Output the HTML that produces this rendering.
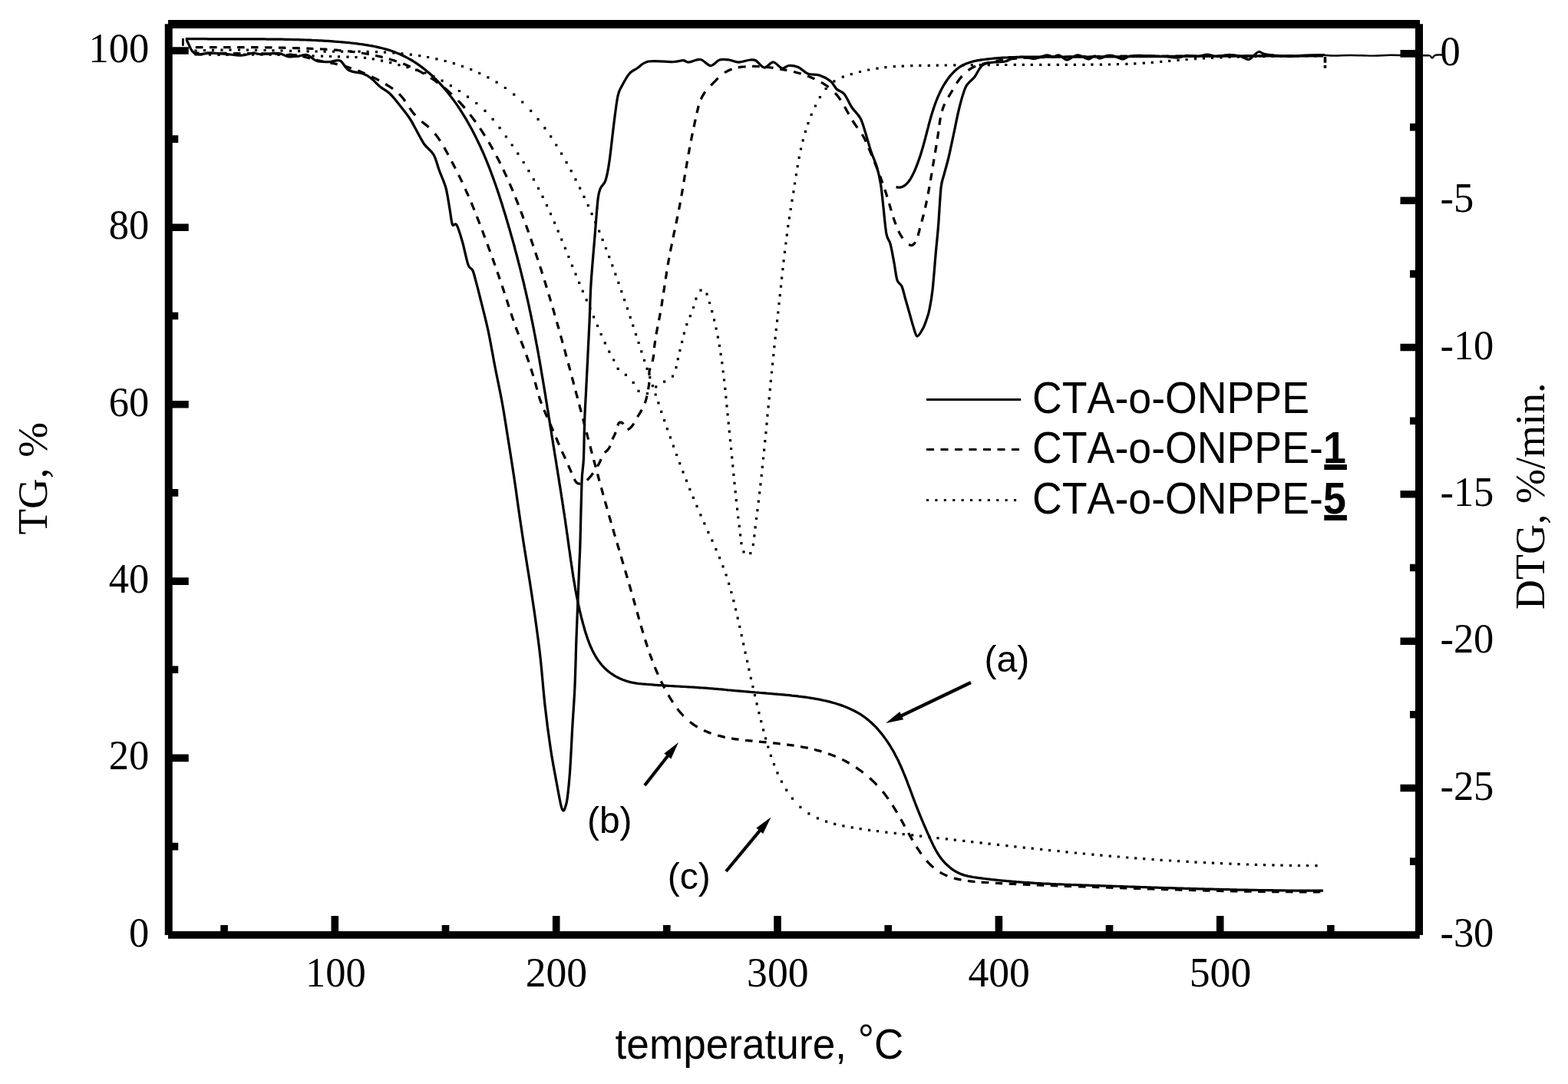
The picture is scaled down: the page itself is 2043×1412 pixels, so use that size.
<!DOCTYPE html>
<html lang="en"><head><meta charset="utf-8"><title>TG / DTG curves</title>
<style>
html,body{margin:0;padding:0;background:#fff;}
body{width:2043px;height:1412px;overflow:hidden;font-family:"Liberation Sans",sans-serif;}
svg{display:block;}
svg text{font-kerning:none;font-variant-ligatures:none;}
</style></head><body>
<svg width="2043" height="1412" viewBox="0 0 2043 1412">
<rect width="2043" height="1412" fill="#fff"/>
<g fill="none" stroke="#000" stroke-width="3.25" stroke-linejoin="round" stroke-linecap="butt">
<path d="M241.7,50.6L244.6,50.7L247.6,50.7L250.6,50.7L253.5,50.7L256.5,50.7L259.5,50.7L262.5,50.7L265.5,50.7L268.4,50.7L271.4,50.8L274.4,50.8L277.4,50.8L280.4,50.8L283.5,50.8L286.5,50.8L289.5,50.8L292.5,50.8L295.5,50.8L298.5,50.8L301.5,50.8L304.6,50.8L307.6,50.8L310.6,50.8L313.6,50.8L316.6,50.8L319.7,50.8L322.7,50.8L325.7,50.8L328.7,50.8L331.8,50.8L334.8,50.9L337.8,50.9L340.8,50.9L343.9,50.9L346.9,51.0L349.9,51.0L352.9,51.0L355.9,51.1L358.9,51.1L362.0,51.1L365.0,51.2L368.0,51.2L371.0,51.3L374.0,51.4L377.0,51.4L380.0,51.5L383.0,51.6L386.0,51.6L388.9,51.7L391.9,51.8L394.9,51.9L397.9,52.0L400.8,52.1L403.8,52.2L406.8,52.4L409.7,52.5L412.7,52.6L415.7,52.8L418.6,52.9L421.6,53.1L424.6,53.3L427.5,53.4L430.5,53.6L433.5,53.8L436.5,54.1L439.5,54.3L442.4,54.5L445.4,54.8L448.4,55.1L451.5,55.4L454.5,55.7L457.5,56.0L460.5,56.3L463.6,56.7L466.6,57.1L469.7,57.5L472.7,57.9L475.8,58.4L478.8,58.8L481.8,59.4L484.9,59.9L487.9,60.5L490.9,61.1L493.9,61.8L496.8,62.5L499.8,63.3L502.7,64.1L505.6,64.9L508.5,65.8L511.3,66.8L514.1,67.8L516.9,68.9L519.7,70.0L522.4,71.2L525.1,72.5L527.7,73.8L530.3,75.1L532.9,76.6L535.5,78.0L538.0,79.5L540.5,81.1L542.9,82.7L545.4,84.4L547.8,86.1L550.1,87.9L552.5,89.7L554.8,91.5L557.0,93.4L559.3,95.3L561.5,97.3L563.7,99.3L565.8,101.4L568.0,103.4L570.1,105.6L572.1,107.7L574.2,109.9L576.2,112.1L578.2,114.4L580.2,116.7L582.1,119.0L584.0,121.3L585.9,123.7L587.7,126.1L589.5,128.5L591.3,130.9L593.1,133.4L594.9,135.9L596.6,138.4L598.3,140.9L599.9,143.4L601.6,146.0L603.2,148.6L604.8,151.2L606.4,153.8L607.9,156.4L609.4,159.0L610.9,161.7L612.4,164.3L613.9,167.0L615.3,169.6L616.7,172.3L618.1,175.0L619.5,177.7L620.8,180.4L622.1,183.1L623.4,185.8L624.7,188.5L626.0,191.2L627.2,194.0L628.5,196.7L629.7,199.4L630.9,202.2L632.0,205.0L633.2,207.7L634.3,210.5L635.5,213.3L636.6,216.1L637.7,218.8L638.7,221.6L639.8,224.4L640.8,227.2L641.9,230.1L642.9,232.9L643.9,235.7L644.9,238.5L645.9,241.3L646.9,244.2L647.9,247.0L648.8,249.9L649.8,252.7L650.7,255.5L651.6,258.4L652.5,261.2L653.5,264.1L654.4,267.0L655.2,269.8L656.1,272.7L657.0,275.6L657.9,278.4L658.8,281.3L659.6,284.2L660.5,287.1L661.3,289.9L662.2,292.8L663.0,295.7L663.9,298.6L664.7,301.5L665.5,304.4L666.3,307.3L667.2,310.2L668.0,313.1L668.8,315.9L669.6,318.8L670.4,321.7L671.1,324.7L671.9,327.6L672.7,330.5L673.5,333.4L674.2,336.3L675.0,339.2L675.7,342.1L676.5,345.0L677.2,347.9L678.0,350.8L678.7,353.8L679.4,356.7L680.1,359.6L680.8,362.5L681.6,365.5L682.3,368.4L683.0,371.3L683.6,374.2L684.3,377.2L685.0,380.1L685.7,383.0L686.3,386.0L687.0,388.9L687.7,391.8L688.3,394.8L689.0,397.7L689.6,400.6L690.2,403.6L690.9,406.5L691.5,409.5L692.1,412.4L692.7,415.4L693.3,418.3L693.9,421.2L694.5,424.2L695.1,427.1L695.7,430.1L696.2,433.0L696.8,436.0L697.4,438.9L697.9,441.9L698.5,444.8L699.0,447.8L699.6,450.7L700.1,453.7L700.7,456.6L701.2,459.6L701.7,462.5L702.3,465.5L702.8,468.5L703.3,471.4L703.8,474.4L704.3,477.3L704.8,480.3L705.3,483.2L705.8,486.2L706.3,489.2L706.8,492.1L707.3,495.1L707.8,498.0L708.3,501.0L708.8,504.0L709.3,506.9L709.8,509.9L710.3,512.9L710.8,515.8L711.2,518.8L711.7,521.8L712.2,524.7L712.7,527.7L713.1,530.7L713.6,533.6L714.1,536.6L714.6,539.6L715.0,542.5L715.5,545.5L716.0,548.5L716.5,551.4L716.9,554.4L717.4,557.4L717.9,560.3L718.4,563.3L718.8,566.3L719.3,569.3L719.8,572.2L720.3,575.2L720.7,578.2L721.2,581.1L721.7,584.1L722.2,587.1L722.6,590.0L723.1,593.0L723.6,596.0L724.1,599.0L724.6,601.9L725.0,604.9L725.5,607.9L726.0,610.9L726.5,613.8L726.9,616.8L727.4,619.8L727.9,622.7L728.4,625.7L728.8,628.7L729.3,631.7L729.8,634.6L730.2,637.6L730.7,640.6L731.2,643.6L731.6,646.5L732.1,649.5L732.6,652.5L733.0,655.4L733.5,658.4L733.9,661.4L734.4,664.4L734.8,667.3L735.3,670.3L735.7,673.3L736.2,676.3L736.6,679.2L737.0,682.2L737.5,685.2L737.9,688.2L738.3,691.1L738.7,694.1L739.2,697.1L739.6,700.0L740.0,703.0L740.4,706.0L740.8,709.0L741.2,711.9L741.6,714.9L742.1,717.9L742.5,720.8L742.9,723.8L743.3,726.8L743.7,729.7L744.2,732.7L744.6,735.7L745.0,738.6L745.5,741.6L745.9,744.6L746.4,747.5L746.8,750.5L747.3,753.5L747.8,756.4L748.3,759.4L748.8,762.3L749.3,765.3L749.8,768.3L750.4,771.2L750.9,774.2L751.5,777.1L752.1,780.1L752.7,783.0L753.3,786.0L753.9,788.9L754.6,791.9L755.2,794.8L755.9,797.7L756.6,800.7L757.3,803.6L758.1,806.6L758.9,809.5L759.6,812.4L760.5,815.4L761.3,818.3L762.1,821.2L763.0,824.1L764.0,827.0L764.9,829.9L765.9,832.8L767.0,835.7L768.0,838.5L769.2,841.3L770.4,844.0L771.6,846.7L773.0,849.4L774.4,852.0L775.8,854.6L777.4,857.1L779.0,859.6L780.7,861.9L782.5,864.3L784.3,866.5L786.3,868.7L788.4,870.8L790.5,872.8L792.8,874.7L795.2,876.5L797.6,878.2L800.2,879.9L802.8,881.4L805.5,882.8L808.2,884.1L811.0,885.3L813.8,886.3L816.7,887.3L819.6,888.1L822.5,888.8L825.5,889.3L828.4,889.9L831.4,890.3L834.4,890.6L837.4,891.0L840.4,891.2L843.5,891.5L846.5,891.7L849.5,891.9L852.5,892.2L855.5,892.4L858.5,892.6L861.5,892.7L864.5,892.9L867.5,893.1L870.5,893.3L873.5,893.5L876.4,893.6L879.4,893.8L882.4,894.0L885.4,894.1L888.4,894.3L891.4,894.5L894.4,894.7L897.4,894.8L900.3,895.0L903.3,895.2L906.3,895.4L909.3,895.6L912.3,895.8L915.3,896.0L918.3,896.2L921.3,896.4L924.3,896.7L927.3,896.9L930.4,897.2L933.4,897.4L936.4,897.7L939.4,897.9L942.4,898.2L945.4,898.5L948.5,898.8L951.5,899.0L954.5,899.3L957.5,899.6L960.5,899.8L963.5,900.1L966.5,900.4L969.5,900.7L972.5,900.9L975.5,901.2L978.5,901.5L981.5,901.7L984.5,902.0L987.5,902.2L990.4,902.5L993.4,902.7L996.4,902.9L999.3,903.2L1002.3,903.4L1005.3,903.6L1008.2,903.9L1011.2,904.1L1014.1,904.4L1017.1,904.6L1020.1,904.9L1023.0,905.2L1026.0,905.4L1028.9,905.7L1031.9,906.1L1034.9,906.4L1037.9,906.7L1040.9,907.1L1043.8,907.4L1046.8,907.8L1049.8,908.2L1052.8,908.7L1055.8,909.1L1058.9,909.6L1061.9,910.1L1064.9,910.7L1067.9,911.2L1070.9,911.9L1073.9,912.5L1076.9,913.2L1079.9,913.9L1082.8,914.6L1085.8,915.5L1088.7,916.3L1091.6,917.2L1094.5,918.1L1097.3,919.1L1100.1,920.2L1102.9,921.3L1105.7,922.5L1108.4,923.7L1111.1,925.0L1113.7,926.3L1116.3,927.7L1118.9,929.2L1121.4,930.7L1123.9,932.3L1126.3,934.0L1128.6,935.8L1130.9,937.6L1133.2,939.5L1135.4,941.5L1137.6,943.5L1139.7,945.6L1141.7,947.7L1143.7,949.9L1145.7,952.2L1147.6,954.5L1149.5,956.8L1151.3,959.2L1153.1,961.6L1154.9,964.1L1156.6,966.6L1158.2,969.1L1159.9,971.7L1161.4,974.3L1163.0,976.9L1164.5,979.5L1165.9,982.2L1167.3,984.9L1168.7,987.6L1170.1,990.3L1171.4,993.0L1172.6,995.8L1173.9,998.5L1175.1,1001.3L1176.3,1004.0L1177.4,1006.8L1178.6,1009.6L1179.7,1012.4L1180.8,1015.2L1181.9,1018.0L1182.9,1020.8L1184.0,1023.6L1185.1,1026.4L1186.1,1029.2L1187.2,1032.0L1188.2,1034.8L1189.2,1037.6L1190.3,1040.4L1191.3,1043.2L1192.4,1046.0L1193.5,1048.8L1194.6,1051.6L1195.7,1054.4L1196.8,1057.2L1197.9,1059.9L1199.0,1062.7L1200.2,1065.5L1201.4,1068.3L1202.5,1071.0L1203.7,1073.8L1204.9,1076.5L1206.1,1079.3L1207.3,1082.1L1208.5,1084.8L1209.8,1087.6L1211.0,1090.4L1212.2,1093.1L1213.5,1095.9L1214.8,1098.6L1216.1,1101.4L1217.5,1104.1L1218.9,1106.7L1220.4,1109.4L1221.9,1111.9L1223.6,1114.5L1225.3,1116.9L1227.1,1119.3L1229.1,1121.7L1231.1,1123.9L1233.2,1126.1L1235.5,1128.1L1237.8,1130.1L1240.1,1131.9L1242.6,1133.6L1245.1,1135.1L1247.7,1136.6L1250.4,1137.8L1253.1,1138.9L1255.9,1139.9L1258.8,1140.7L1261.7,1141.4L1264.6,1141.9L1267.6,1142.5L1270.5,1142.9L1273.5,1143.3L1276.5,1143.7L1279.5,1144.1L1282.5,1144.5L1285.4,1144.9L1288.4,1145.2L1291.4,1145.6L1294.4,1145.9L1297.4,1146.2L1300.4,1146.5L1303.4,1146.8L1306.4,1147.1L1309.4,1147.4L1312.3,1147.7L1315.3,1147.9L1318.3,1148.2L1321.3,1148.4L1324.3,1148.7L1327.3,1148.9L1330.3,1149.1L1333.3,1149.3L1336.3,1149.5L1339.3,1149.7L1342.3,1149.9L1345.3,1150.1L1348.3,1150.3L1351.3,1150.5L1354.3,1150.6L1357.3,1150.8L1360.3,1151.0L1363.3,1151.1L1366.3,1151.2L1369.3,1151.4L1372.3,1151.5L1375.3,1151.7L1378.3,1151.8L1381.4,1151.9L1384.4,1152.0L1387.4,1152.2L1390.4,1152.3L1393.4,1152.4L1396.4,1152.5L1399.4,1152.6L1402.4,1152.7L1405.4,1152.8L1408.4,1152.9L1411.4,1153.0L1414.4,1153.1L1417.4,1153.2L1420.4,1153.3L1423.4,1153.4L1426.4,1153.5L1429.5,1153.6L1432.5,1153.7L1435.5,1153.8L1438.5,1153.9L1441.5,1154.0L1444.5,1154.1L1447.5,1154.2L1450.5,1154.3L1453.5,1154.4L1456.5,1154.5L1459.5,1154.6L1462.5,1154.7L1465.5,1154.8L1468.5,1154.9L1471.5,1155.0L1474.5,1155.1L1477.5,1155.2L1480.5,1155.3L1483.6,1155.4L1486.6,1155.5L1489.6,1155.6L1492.6,1155.7L1495.6,1155.8L1498.6,1155.9L1501.6,1156.0L1504.6,1156.1L1507.6,1156.2L1510.6,1156.3L1513.6,1156.4L1516.6,1156.5L1519.6,1156.5L1522.6,1156.6L1525.6,1156.7L1528.6,1156.8L1531.6,1156.9L1534.6,1157.0L1537.6,1157.1L1540.6,1157.2L1543.6,1157.3L1546.6,1157.3L1549.7,1157.4L1552.7,1157.5L1555.7,1157.6L1558.7,1157.7L1561.7,1157.8L1564.7,1157.8L1567.7,1157.9L1570.7,1158.0L1573.7,1158.1L1576.7,1158.1L1579.7,1158.2L1582.7,1158.3L1585.7,1158.4L1588.7,1158.4L1591.7,1158.5L1594.7,1158.6L1597.7,1158.6L1600.7,1158.7L1603.7,1158.8L1606.7,1158.8L1609.8,1158.9L1612.8,1159.0L1615.8,1159.0L1618.8,1159.1L1621.8,1159.1L1624.8,1159.2L1627.8,1159.3L1630.8,1159.3L1633.8,1159.4L1636.8,1159.4L1639.8,1159.5L1642.8,1159.5L1645.8,1159.6L1648.8,1159.6L1651.8,1159.7L1654.8,1159.7L1657.8,1159.7L1660.9,1159.8L1663.9,1159.8L1666.9,1159.9L1669.9,1159.9L1672.9,1159.9L1675.9,1160.0L1678.9,1160.0L1681.9,1160.0L1684.9,1160.1L1687.9,1160.1L1690.9,1160.1L1693.9,1160.1L1696.9,1160.1L1700.0,1160.2L1703.0,1160.2L1706.0,1160.2L1709.0,1160.2L1712.0,1160.2L1715.0,1160.2L1718.0,1160.2L1721.0,1160.2L1724.0,1160.2"/>
<path d="M243.0,52.0C243.5,53.0 244.8,55.5 246.0,58.0C247.2,60.5 248.5,64.5 250.5,66.7C252.5,68.9 253.9,70.6 258.0,71.0C262.1,71.4 268.0,69.0 275.0,69.0C282.0,69.0 293.1,70.5 300.0,71.0C306.9,71.5 311.5,72.3 316.5,72.0C321.5,71.7 326.4,69.2 330.0,69.0C333.6,68.8 332.5,70.4 338.0,70.5C343.5,70.6 356.8,69.0 363.0,69.5C369.2,70.0 370.8,73.0 375.0,73.6C379.2,74.2 383.8,73.6 388.0,73.3C392.2,73.0 395.8,70.5 400.0,71.5C404.2,72.5 408.0,78.0 413.0,79.5C418.0,81.0 425.0,80.6 430.0,80.5C435.0,80.4 438.9,77.2 443.0,79.0C447.1,80.8 449.6,88.7 454.6,91.5C459.6,94.3 468.3,94.3 473.0,96.0C477.7,97.7 479.2,98.6 483.0,101.5C486.8,104.4 491.8,110.1 496.0,113.5C500.2,116.9 504.1,118.3 508.0,122.0C511.9,125.7 515.3,130.3 519.5,135.5C523.7,140.7 529.6,148.1 533.0,153.0C536.4,157.9 536.8,159.2 540.0,165.0C543.2,170.8 548.3,181.4 552.5,187.5C556.7,193.6 561.7,195.7 565.0,201.5C568.3,207.3 569.8,215.2 572.5,222.5C575.2,229.8 578.8,236.7 581.0,245.0C583.2,253.3 584.6,264.6 586.0,272.5C587.4,280.4 588.0,289.1 589.5,292.5C591.0,295.9 592.8,289.2 595.0,293.0C597.2,296.8 600.0,306.3 602.5,315.0C605.0,323.7 607.8,338.8 610.0,345.0C612.2,351.2 614.2,348.3 616.0,352.5C617.8,356.7 619.5,364.5 621.0,370.0C622.5,375.5 622.5,375.4 625.0,385.5C627.5,395.6 632.7,415.1 636.0,430.5C639.3,445.9 642.0,462.6 645.0,478.0C648.0,493.4 651.3,508.4 654.0,523.0C656.7,537.6 658.3,548.8 661.0,565.5C663.7,582.2 667.5,606.3 670.0,623.0C672.5,639.7 674.0,651.7 676.0,665.5C678.0,679.3 679.7,690.9 682.0,706.0C684.3,721.1 687.4,739.3 690.0,756.0C692.6,772.7 695.2,789.3 697.5,806.0C699.8,822.7 701.9,837.2 704.0,856.0C706.1,874.8 707.8,898.5 710.0,918.5C712.2,938.5 715.0,959.3 717.5,976.0C720.0,992.7 722.9,1007.0 725.0,1018.5C727.1,1030.0 728.8,1039.2 730.0,1045.0C731.2,1050.8 731.3,1051.2 732.0,1053.0C732.7,1054.8 733.3,1056.0 734.0,1056.0C734.7,1056.0 735.2,1055.5 736.0,1053.0C736.8,1050.5 737.9,1048.8 739.0,1041.0C740.1,1033.2 741.3,1022.2 742.5,1006.0C743.7,989.8 744.9,962.2 746.0,943.5C747.1,924.8 748.2,912.2 749.0,893.5C749.8,874.8 750.3,849.8 751.0,831.0C751.7,812.2 752.3,797.7 753.0,781.0C753.7,764.3 754.5,743.5 755.0,731.0C755.5,718.5 755.5,723.2 756.0,706.0C756.5,688.8 757.3,646.0 758.0,628.0C758.7,610.0 759.8,611.4 760.4,598.0C761.0,584.6 761.2,562.3 761.7,547.5C762.2,532.7 763.0,521.8 763.6,509.0C764.2,496.2 764.8,485.8 765.5,471.0C766.2,456.2 767.2,436.8 768.0,420.0C768.8,403.2 768.8,388.8 770.0,370.0C771.2,351.2 773.5,325.8 775.0,307.5C776.5,289.2 777.8,270.4 779.0,260.0C780.2,249.6 780.8,249.2 782.5,245.0C784.2,240.8 787.1,240.8 789.0,235.0C790.9,229.2 792.2,222.5 794.0,210.0C795.8,197.5 798.2,174.2 800.0,160.0C801.8,145.8 803.3,132.9 805.0,125.0C806.7,117.1 807.5,117.3 810.0,112.5C812.5,107.7 816.7,99.9 820.0,96.0C823.3,92.1 825.8,91.7 830.0,89.0C834.2,86.3 837.1,81.4 845.0,80.0C852.9,78.6 870.0,80.7 877.5,80.5C885.0,80.3 886.7,78.6 890.0,78.7C893.3,78.8 893.8,81.2 897.5,81.0C901.2,80.8 907.8,76.8 912.5,77.5C917.2,78.2 921.8,85.4 926.0,85.5C930.2,85.6 933.5,79.2 937.5,78.0C941.5,76.8 945.8,77.5 950.0,78.0C954.2,78.5 957.9,81.0 962.5,81.0C967.1,81.0 973.8,78.3 977.5,78.0C981.2,77.7 981.9,77.3 985.0,79.0C988.1,80.7 992.2,87.7 996.0,88.0C999.8,88.3 1003.7,80.8 1007.5,81.0C1011.3,81.2 1015.7,88.2 1019.0,89.0C1022.3,89.8 1024.0,85.8 1027.5,85.5C1031.0,85.2 1035.8,85.8 1040.0,87.5C1044.2,89.2 1047.9,94.2 1052.5,96.0C1057.1,97.8 1062.5,96.3 1067.5,98.0C1072.5,99.7 1078.8,103.0 1082.5,106.0C1086.2,109.0 1087.1,113.2 1090.0,116.0C1092.9,118.8 1096.7,118.5 1100.0,122.5C1103.3,126.5 1106.5,134.8 1110.0,140.0C1113.5,145.2 1118.1,148.6 1121.0,154.0C1123.9,159.4 1125.2,165.2 1127.5,172.5C1129.8,179.8 1132.5,190.0 1135.0,197.5C1137.5,205.0 1140.4,210.4 1142.5,217.5C1144.6,224.6 1146.1,231.2 1147.5,240.0C1148.9,248.8 1149.8,259.2 1151.0,270.0C1152.2,280.8 1153.5,297.1 1155.0,305.0C1156.5,312.9 1158.3,311.2 1160.0,317.5C1161.7,323.8 1163.5,334.6 1165.0,342.5C1166.5,350.4 1167.3,359.9 1169.0,365.0C1170.7,370.1 1173.2,368.8 1175.0,373.0C1176.8,377.2 1178.3,384.7 1180.0,390.5C1181.7,396.3 1183.3,402.2 1185.0,408.0C1186.7,413.8 1188.3,420.5 1190.0,425.5C1191.7,430.5 1192.9,437.6 1195.0,438.0C1197.1,438.4 1200.4,431.8 1202.5,428.0C1204.6,424.2 1206.1,419.7 1207.5,415.5C1208.9,411.3 1209.8,409.2 1211.0,403.0C1212.2,396.8 1213.7,389.8 1215.0,378.0C1216.3,366.2 1217.8,346.3 1219.0,332.5C1220.2,318.7 1221.3,309.6 1222.5,295.0C1223.7,280.4 1224.8,256.2 1226.0,245.0C1227.2,233.8 1228.3,234.2 1230.0,227.5C1231.7,220.8 1233.9,213.8 1236.0,205.0C1238.1,196.2 1240.2,185.8 1242.5,175.0C1244.8,164.2 1247.5,150.0 1250.0,140.0C1252.5,130.0 1255.4,120.4 1257.5,115.0C1259.6,109.6 1260.4,110.0 1262.5,107.5C1264.6,105.0 1267.1,103.8 1270.0,100.0C1272.9,96.2 1275.8,88.2 1280.0,85.0C1284.2,81.8 1290.0,81.8 1295.0,81.0C1300.0,80.2 1305.8,80.9 1310.0,80.0C1314.2,79.1 1315.8,76.4 1320.0,75.5C1324.2,74.6 1330.3,74.3 1335.0,74.5C1339.7,74.7 1343.3,76.9 1348.0,76.5C1352.7,76.1 1359.0,72.4 1363.0,72.0C1367.0,71.6 1369.2,74.0 1372.0,74.0C1374.8,74.0 1377.0,71.3 1380.0,72.0C1383.0,72.7 1387.0,77.7 1390.0,78.0C1393.0,78.3 1395.3,75.0 1398.0,74.0C1400.7,73.0 1402.7,71.5 1406.0,72.0C1409.3,72.5 1414.7,76.8 1418.0,77.0C1421.3,77.2 1423.5,73.2 1426.0,73.0C1428.5,72.8 1430.3,76.1 1433.0,76.0C1435.7,75.9 1439.2,73.1 1442.0,72.5C1444.8,71.9 1446.5,71.8 1450.0,72.5C1453.5,73.2 1459.3,76.9 1463.0,77.0C1466.7,77.1 1467.5,73.8 1472.0,73.0C1476.5,72.2 1483.7,72.5 1490.0,72.5C1496.3,72.5 1502.7,72.6 1510.0,73.0C1517.3,73.4 1528.2,75.1 1534.0,75.0C1539.8,74.9 1540.7,72.8 1545.0,72.5C1549.3,72.2 1555.3,73.8 1560.0,73.5C1564.7,73.2 1568.8,71.0 1573.0,71.0C1577.2,71.0 1580.5,73.4 1585.0,73.5C1589.5,73.6 1595.0,71.6 1600.0,71.5C1605.0,71.4 1610.6,72.0 1615.0,73.0C1619.4,74.0 1623.4,77.7 1626.6,77.5C1629.8,77.3 1631.8,73.7 1634.0,72.0C1636.2,70.3 1637.7,67.8 1640.0,67.5C1642.3,67.2 1644.7,69.8 1648.0,70.5C1651.3,71.2 1654.7,71.5 1660.0,72.0C1665.3,72.5 1673.3,73.5 1680.0,73.5C1686.7,73.5 1692.3,72.3 1700.0,72.0C1707.7,71.7 1721.7,71.6 1726.0,71.5"/>
<path d="M1724.0,71.8C1726.7,71.9 1734.0,72.5 1740.0,72.5C1746.0,72.5 1751.7,72.0 1760.0,72.0C1768.3,72.0 1781.3,72.6 1790.0,72.6C1798.7,72.6 1803.7,71.8 1812.0,71.8C1820.3,71.8 1832.3,72.2 1840.0,72.3C1847.7,72.4 1854.2,72.3 1858.0,72.3C1861.8,72.3 1861.7,72.0 1863.0,72.5C1864.3,73.0 1865.0,75.5 1866.0,75.5C1867.0,75.5 1867.8,73.2 1869.0,72.5C1870.2,71.8 1871.3,71.7 1873.0,71.5C1874.7,71.3 1878.0,71.5 1879.0,71.5" stroke-width="2.4"/>
<path d="M1167.5,243.6L1170.2,244.1L1172.9,244.1L1175.3,243.5L1177.6,242.3L1179.8,240.8L1181.8,238.9L1183.7,236.7L1185.4,234.3L1187.0,231.8L1188.5,229.1L1189.9,226.3L1191.3,223.5L1192.5,220.6L1193.7,217.7L1194.8,214.8L1195.9,211.9L1196.9,209.0L1197.9,206.1L1198.9,203.2L1199.8,200.4L1200.7,197.5L1201.6,194.6L1202.4,191.7L1203.2,188.9L1204.0,186.0L1204.8,183.1L1205.6,180.2L1206.3,177.3L1207.1,174.4L1207.8,171.5L1208.6,168.6L1209.4,165.6L1210.1,162.7L1210.9,159.8L1211.7,156.9L1212.5,154.0L1213.3,151.1L1214.2,148.2L1215.1,145.3L1216.0,142.4L1217.0,139.5L1218.0,136.6L1219.0,133.8L1220.1,131.0L1221.2,128.2L1222.4,125.4L1223.7,122.6L1225.0,119.8L1226.3,117.1L1227.7,114.4L1229.2,111.7L1230.8,109.1L1232.5,106.5L1234.2,103.9L1236.0,101.5L1237.8,99.1L1239.8,96.8L1241.9,94.5L1244.0,92.5L1246.2,90.5L1248.5,88.7L1250.9,87.0L1253.4,85.5L1256.0,84.2L1258.7,83.0L1261.5,82.0L1264.3,81.0L1267.2,80.2L1270.1,79.5L1273.1,78.9L1276.1,78.4L1279.1,77.9L1282.2,77.5L1285.2,77.1L1288.3,76.8L1291.3,76.5L1294.4,76.2L1297.4,75.9L1300.4,75.6L1303.5,75.4L1306.5,75.2L1309.5,75.0L1312.6,74.9L1315.6,74.7L1318.6,74.6L1321.7,74.5L1324.7,74.4L1327.7,74.3L1330.7,74.2L1333.8,74.2L1336.8,74.1L1339.8,74.1L1342.8,74.0L1345.9,74.0L1348.9,74.0L1351.9,74.0L1354.9,74.0L1357.9,74.0L1361.0,74.0L1364.0,74.0L1367.0,74.0L1370.0,74.0L1373.0,74.0L1376.1,74.0L1379.1,74.0L1382.1,74.0L1385.1,74.0L1388.1,74.0L1391.2,74.0L1394.2,74.0L1397.2,74.0L1400.2,74.0L1403.3,74.0L1406.3,74.0L1409.3,74.0L1412.3,74.0L1415.3,74.0L1418.4,74.0L1421.4,73.9L1424.4,73.9L1427.4,73.9L1430.5,73.9L1433.5,73.9L1436.5,73.9L1439.5,73.9L1442.6,73.9L1445.6,73.9L1448.6,73.8L1451.6,73.8L1454.7,73.8L1457.7,73.8L1460.7,73.8L1463.7,73.8L1466.8,73.8L1469.8,73.7L1472.8,73.7L1475.8,73.7L1478.9,73.7L1481.9,73.7L1484.9,73.7L1488.0,73.6L1491.0,73.6L1494.0,73.6L1497.0,73.6L1500.1,73.6L1503.1,73.6L1506.1,73.5L1509.1,73.5L1512.2,73.5L1515.2,73.5L1518.2,73.5L1521.2,73.4L1524.3,73.4L1527.3,73.4L1530.3,73.4L1533.4,73.4L1536.4,73.3L1539.4,73.3L1542.4,73.3L1545.5,73.3L1548.5,73.3L1551.5,73.3L1554.5,73.2L1557.6,73.2L1560.6,73.2L1563.6,73.2L1566.7,73.2L1569.7,73.2L1572.7,73.1L1575.7,73.1L1578.8,73.1L1581.8,73.1L1584.8,73.1L1587.8,73.1L1590.9,73.0L1593.9,73.0L1596.9,73.0L1600.0,73.0L1603.0,73.0L1606.0,73.0L1609.0,73.0L1612.1,72.9L1615.1,72.9L1618.1,72.9L1621.1,72.9L1624.2,72.9L1627.2,72.9L1630.2,72.9L1633.2,72.9L1636.3,72.9L1639.3,72.9L1642.3,72.8L1645.4,72.8L1648.4,72.8L1651.4,72.8L1654.4,72.8L1657.5,72.8L1660.5,72.8L1663.5,72.8L1666.5,72.8L1669.6,72.8L1672.6,72.8L1675.6,72.8L1678.6,72.8L1681.6,72.8L1684.7,72.8L1687.7,72.8L1690.7,72.8L1693.7,72.8L1696.8,72.8L1699.8,72.9L1702.8,72.9L1705.8,72.9L1708.9,72.9L1711.9,72.9L1714.9,72.9L1717.9,72.9L1720.9,72.9L1724.0,72.9"/>
<path d="M238.4,50V59.8" stroke-width="2.8"/>
<path d="M254.8,61.6L257.9,61.6L260.9,61.6L264.0,61.6L264.5,61.6M273.0,61.6L276.1,61.6L279.1,61.6L282.1,61.6L282.6,61.6M291.1,61.6L294.1,61.6L297.1,61.6L300.1,61.6L300.6,61.6M309.1,61.6L312.1,61.6L315.1,61.6L318.1,61.6L318.6,61.6M327.1,61.7L330.1,61.7L333.1,61.7L336.1,61.7L336.5,61.7M345.0,61.8L348.0,61.9L351.0,61.9L354.0,61.9L354.5,61.9M362.9,62.1L365.9,62.1L368.9,62.2L371.9,62.3L372.4,62.3M380.9,62.5L383.9,62.6L386.8,62.7L389.8,62.8L390.8,62.8M399.3,63.1L402.3,63.2L405.4,63.3L408.4,63.5M416.9,63.9L419.9,64.0L422.9,64.2L425.9,64.4L426.4,64.4M435.0,65.0L438.0,65.2L441.0,65.5L444.0,65.8L444.5,65.8M453.0,66.7L456.0,67.0L459.0,67.4L462.0,67.7L462.5,67.8M470.9,69.0L473.9,69.5L476.8,70.0L479.8,70.5L480.8,70.7M489.1,72.3L492.0,73.0L494.9,73.7L497.8,74.4L498.7,74.6M506.9,76.8L509.7,77.7L512.6,78.5L515.4,79.5L516.8,79.9M525.2,83.0L527.9,84.1L530.7,85.2L533.4,86.4L534.8,87.0M542.9,90.9L545.5,92.2L548.2,93.7L550.8,95.1L552.5,96.1M561.1,101.3L563.6,103.0L566.1,104.7L568.5,106.4L570.6,107.9M578.9,114.3L581.2,116.2L583.4,118.2L585.7,120.2L587.9,122.2L588.6,122.9M596.8,131.0L598.9,133.2L600.9,135.4L602.9,137.6L604.9,139.9L605.5,140.7M612.5,149.2L614.3,151.6L616.1,154.0L617.9,156.4L619.7,158.9M625.4,167.1L627.1,169.6L628.7,172.1L630.3,174.6L631.7,176.8M636.9,185.3L638.4,187.9L639.9,190.5L641.3,193.1L642.3,194.8M646.8,203.2L648.2,205.8L649.6,208.5L650.9,211.1L651.8,212.9M655.8,221.0L657.0,223.7L658.3,226.4L659.6,229.1L660.2,230.5M664.0,239.2L665.2,241.9L666.4,244.7L667.6,247.4L668.2,248.8M671.6,257.2L672.7,259.9L673.8,262.7L674.9,265.5L675.4,266.9M678.7,275.3L679.7,278.1L680.8,280.9L681.8,283.8L682.2,284.7M685.3,293.2L686.3,296.0L687.3,298.8L688.3,301.6L688.6,302.6M691.6,311.1L692.6,313.9L693.6,316.8L694.5,319.6L694.9,320.5M697.7,329.1L698.7,331.9L699.6,334.8L700.6,337.6L700.9,338.6M703.6,347.1L704.6,350.0L705.5,352.8L706.4,355.7L706.7,356.6M709.4,365.2L710.3,368.1L711.2,371.0L712.0,373.8L712.3,374.8M714.9,383.4L715.8,386.3L716.7,389.1L717.5,392.0L717.7,392.5M720.2,401.1L721.1,404.0L721.9,406.9L722.7,409.8L723.0,410.7M725.5,419.4L726.3,422.2L727.1,425.1L728.0,428.0L728.1,428.5M730.5,437.2L731.3,440.1L732.1,442.9L732.9,445.8L733.2,446.8M735.5,455.0L736.3,457.9L737.0,460.8L737.8,463.7L738.1,464.6M740.4,473.3L741.2,476.2L742.0,479.1L742.8,482.0L742.9,482.5M745.2,491.2L746.0,494.1L746.8,497.0L747.5,499.9L747.8,500.9M750.0,509.1L750.7,512.0L751.5,514.9L752.3,517.8L752.5,518.8M754.7,527.0L755.4,529.9L756.2,532.8L757.0,535.7L757.2,536.7M759.5,545.4L760.3,548.3L761.0,551.2L761.8,554.1L761.9,554.6M764.2,563.3L765.0,566.2L765.7,569.1L766.5,572.0L766.6,572.5M768.9,581.2L769.7,584.1L770.4,587.0L771.2,589.9L771.5,590.8M773.6,599.1L774.4,602.0L775.2,604.9L776.0,607.8L776.2,608.7M778.6,617.4L779.3,620.3L780.1,623.2L780.9,626.1L781.0,626.6M783.4,635.3L784.2,638.1L785.0,641.0L785.8,643.9L786.1,644.9M788.3,653.1L789.2,656.0L790.0,658.9L790.8,661.7L791.1,662.7M793.5,671.3L794.3,674.2L795.2,677.1L796.0,680.0L796.3,681.0M798.7,689.1L799.5,692.0L800.3,694.9L801.2,697.7L801.5,698.7M804.0,707.3L804.9,710.2L805.7,713.1L806.6,716.0L806.8,716.9M809.2,725.1L810.1,727.9L810.9,730.8L811.8,733.7L812.1,734.7M814.6,743.3L815.5,746.2L816.3,749.1L817.2,751.9L817.4,752.9M819.8,761.1L820.7,763.9L821.5,766.8L822.3,769.7L822.6,770.7M825.1,779.3L825.9,782.2L826.7,785.1L827.5,788.0L827.7,788.5M830.1,797.2L830.9,800.1L831.7,803.0L832.5,805.9L832.8,806.8M835.1,815.0L836.0,817.9L836.8,820.8L837.7,823.7L838.0,824.6M840.6,833.2L841.5,836.1L842.4,838.9L843.3,841.8L843.7,842.7M846.5,851.2L847.5,854.1L848.6,856.9L849.6,859.7L849.9,860.6M853.2,869.0L854.3,871.7L855.5,874.5L856.7,877.2L857.3,878.6M861.2,887.2L862.6,889.9L863.9,892.6L865.3,895.3L866.0,896.6M870.9,905.4L872.4,908.0L874.0,910.6L875.6,913.1L876.7,914.8M882.5,923.1L884.3,925.5L886.2,927.8L888.2,930.0L890.2,932.3L890.6,932.6M898.9,940.3L901.3,942.1L903.7,943.8L906.1,945.5L908.7,947.0M917.0,951.4L919.7,952.6L922.5,953.7L925.2,954.8L926.6,955.3M935.1,958.0L938.0,958.7L940.9,959.4L943.8,960.1L944.8,960.3M953.1,961.9L956.0,962.4L959.0,962.8L962.0,963.2L962.5,963.3M971.0,964.3L974.0,964.6L977.0,964.9L980.0,965.2L980.5,965.3M989.0,966.1L992.1,966.4L995.1,966.6L998.1,966.9L998.6,967.0M1007.1,967.8L1010.2,968.1L1013.2,968.4L1016.2,968.8L1016.7,968.8M1025.2,969.9L1028.1,970.3L1031.1,970.7L1034.1,971.1L1034.6,971.2M1043.0,972.5L1045.9,973.1L1048.8,973.6L1051.8,974.2L1052.7,974.4M1061.0,976.3L1063.8,977.1L1066.7,977.8L1069.6,978.6L1070.5,978.9M1079.0,981.7L1081.8,982.7L1084.5,983.7L1087.3,984.8L1088.7,985.4M1097.3,989.3L1100.0,990.6L1102.6,992.0L1105.3,993.5L1106.6,994.3M1115.2,999.6L1117.7,1001.3L1120.1,1003.0L1122.6,1004.8L1124.6,1006.4M1133.2,1013.5L1135.4,1015.5L1137.6,1017.6L1139.7,1019.7L1141.8,1021.8L1142.5,1022.5M1150.1,1031.0L1151.9,1033.3L1153.7,1035.6L1155.4,1038.0L1157.2,1040.4L1157.4,1040.8M1162.9,1048.9L1164.4,1051.4L1166.0,1053.9L1167.5,1056.4L1168.8,1058.5M1173.7,1067.1L1175.2,1069.8L1176.7,1072.4L1178.1,1075.1L1178.9,1076.4M1183.6,1085.0L1185.1,1087.7L1186.6,1090.4L1188.2,1093.1L1189.0,1094.5M1194.1,1103.0L1195.8,1105.6L1197.5,1108.2L1199.2,1110.7L1200.4,1112.4M1207.3,1121.1L1209.3,1123.3L1211.3,1125.5L1213.4,1127.5L1215.5,1129.4L1216.2,1130.1M1224.7,1136.2L1227.1,1137.6L1229.7,1138.9L1232.2,1140.1L1234.4,1141.0M1243.0,1143.9L1245.8,1144.7L1248.7,1145.3L1251.6,1145.9L1252.5,1146.1M1260.9,1147.5L1263.9,1147.8L1266.9,1148.2L1270.0,1148.5L1270.5,1148.5M1278.6,1149.1L1281.7,1149.3L1284.7,1149.5L1287.8,1149.7L1288.3,1149.8M1297.0,1150.3L1300.0,1150.4L1303.1,1150.6L1306.1,1150.8M1314.7,1151.2L1317.7,1151.3L1320.7,1151.5L1323.8,1151.6L1324.3,1151.7M1332.8,1152.1L1335.8,1152.2L1338.8,1152.3L1341.8,1152.5L1342.3,1152.5M1350.8,1152.8L1353.8,1153.0L1356.8,1153.1L1359.8,1153.2L1360.3,1153.2M1368.8,1153.5L1371.8,1153.6L1374.8,1153.7L1377.7,1153.9L1378.2,1153.9M1386.7,1154.2L1389.7,1154.3L1392.7,1154.4L1395.6,1154.5L1396.1,1154.5M1405.1,1154.8L1408.1,1154.9L1411.0,1155.0L1414.0,1155.1L1414.5,1155.1M1423.0,1155.4L1426.0,1155.5L1428.9,1155.6L1431.9,1155.7L1432.4,1155.7M1440.9,1156.0L1443.9,1156.1L1446.9,1156.2L1449.9,1156.3L1450.4,1156.3M1458.9,1156.6L1461.9,1156.7L1464.8,1156.8L1467.8,1156.9L1468.3,1156.9M1476.8,1157.2L1479.8,1157.3L1482.8,1157.4L1485.8,1157.5L1486.3,1157.5M1494.8,1157.8L1497.8,1157.9L1500.8,1158.0L1503.8,1158.1L1504.3,1158.1M1512.9,1158.4L1515.9,1158.5L1518.9,1158.5L1521.9,1158.6L1522.4,1158.7M1530.9,1158.9L1533.9,1159.0L1536.9,1159.1L1539.9,1159.2L1540.4,1159.2M1548.9,1159.4L1551.9,1159.5L1554.9,1159.6L1557.9,1159.7L1558.4,1159.7M1567.0,1159.9L1570.0,1160.0L1573.0,1160.0L1576.0,1160.1L1576.5,1160.1M1585.0,1160.3L1588.0,1160.4L1591.0,1160.5L1594.0,1160.5L1594.5,1160.5M1603.0,1160.7L1606.0,1160.8L1609.0,1160.8L1612.0,1160.9L1612.5,1160.9M1621.1,1161.1L1624.1,1161.1L1627.1,1161.2L1630.1,1161.2L1630.6,1161.2M1639.1,1161.3L1642.1,1161.4L1645.1,1161.4L1648.1,1161.5L1648.6,1161.5M1657.1,1161.6L1660.1,1161.6L1663.1,1161.6L1666.1,1161.6L1666.6,1161.6M1675.0,1161.7L1678.0,1161.7L1681.0,1161.7L1684.0,1161.8L1684.5,1161.8M1693.0,1161.8L1696.0,1161.8L1699.0,1161.8L1702.0,1161.8L1702.5,1161.8M1710.9,1161.8L1713.9,1161.8L1716.9,1161.8L1719.9,1161.7L1720.4,1161.7"/>
<path d="M255.0,69.0L258.0,69.0L259.5,69.1M268.0,69.1L271.0,69.1L274.0,69.2L277.0,69.2L277.5,69.2M286.0,69.3L289.0,69.3L292.0,69.3L295.0,69.4L295.5,69.4M304.0,69.5L307.0,69.5L310.0,69.5L313.0,69.6L313.5,69.6M322.0,69.7L325.0,69.7L328.0,69.7L331.0,69.8L331.5,69.8M340.0,69.9L343.0,69.9L346.0,69.9L349.0,70.0L349.5,70.0M358.1,70.1L361.1,70.1L364.1,70.2L367.1,70.3L367.6,70.4M376.1,70.9L379.0,71.2L382.0,71.5L385.0,71.9L386.0,72.0M394.3,73.5L397.2,74.2L400.1,75.0L402.9,75.8L403.9,76.0M412.1,78.2L415.0,78.9L418.0,79.5L420.9,80.1L421.9,80.3M430.3,81.8L433.2,82.4L436.2,83.0L439.1,83.7L439.6,83.8M448.3,86.1L451.1,86.9L454.0,87.8L456.9,88.7L457.8,89.0M466.3,92.0L469.1,93.1L471.8,94.2L474.6,95.4L475.5,95.8M484.2,99.7L486.8,101.1L489.5,102.4L492.2,103.8L494.0,104.8M502.2,109.5L504.8,111.1L507.4,112.7L509.9,114.3L511.9,115.8M520.0,122.3L522.1,124.5L524.0,126.7L525.9,129.0L527.6,131.5L527.9,131.9M533.7,140.6L535.4,143.1L537.2,145.5L539.1,147.9L541.1,150.2M549.3,158.2L551.7,160.0L554.0,161.9L556.4,163.7L558.6,165.7M566.6,173.9L568.4,176.2L570.2,178.6L571.9,181.1L573.6,183.5M578.8,192.1L580.2,194.8L581.7,197.4L583.1,200.0L584.1,201.8M588.6,210.2L590.0,212.9L591.3,215.5L592.7,218.2L593.4,219.5M597.6,228.0L599.0,230.7L600.3,233.4L601.6,236.1L602.2,237.4M606.2,246.1L607.4,248.8L608.6,251.5L609.9,254.3L610.5,255.7M614.0,263.9L615.2,266.7L616.3,269.5L617.4,272.2L618.0,273.6M621.3,282.0L622.4,284.8L623.5,287.6L624.6,290.4L625.1,291.8M628.3,300.2L629.4,303.0L630.4,305.8L631.5,308.6L631.8,309.5M635.0,318.0L636.0,320.8L637.0,323.6L638.1,326.4L638.6,327.8M641.7,336.3L642.7,339.1L643.7,342.0L644.7,344.8L645.0,345.7M648.0,354.2L649.0,357.1L650.0,359.9L650.9,362.7L651.3,363.7M654.2,372.2L655.1,375.1L656.1,377.9L657.0,380.7L657.3,381.7M660.1,390.3L661.0,393.1L661.9,396.0L662.8,398.8L663.1,399.8M665.9,408.3L666.9,411.2L667.8,414.0L668.8,416.8L669.1,417.8M672.1,426.2L673.1,429.1L674.2,431.9L675.2,434.7L675.6,435.6M678.8,444.0L679.9,446.8L681.0,449.6L682.0,452.4L682.6,453.8M685.7,462.2L686.7,465.1L687.7,467.9L688.7,470.7L689.0,471.7M691.8,480.2L692.7,483.1L693.6,485.9L694.5,488.8L694.8,489.8M697.2,497.9L698.0,500.8L698.8,503.7L699.6,506.7L699.8,507.6M702.2,515.9L703.0,518.7L704.0,521.6L705.0,524.4L705.5,525.8M708.8,534.0L710.0,536.7L711.2,539.5L712.4,542.2L713.0,543.5M716.8,552.3L718.0,555.0L719.2,557.8L720.4,560.6L720.8,561.5M724.4,569.9L725.6,572.6L726.7,575.4L727.9,578.1L728.5,579.5M732.3,588.1L733.5,590.8L734.8,593.5L736.0,596.2L736.6,597.5M740.5,606.2L741.7,609.0L743.0,611.8L744.2,614.6L744.6,615.6M748.2,623.9L749.6,626.6L751.3,628.7L753.4,630.0L755.9,630.1L756.4,630.0M764.8,625.5L767.1,623.3L769.1,621.0L771.0,618.6L772.7,616.2M778.4,607.5L779.9,604.9L781.3,602.3L782.6,599.5L783.1,598.1M787.8,589.6L790.0,587.8L792.1,585.8L793.8,583.4L795.1,580.7M797.9,572.4L799.0,569.9L800.3,567.4L801.5,564.8L802.3,563.0M804.8,554.3L805.9,551.5L807.5,550.0L809.6,550.0L811.6,551.8L812.2,552.6M817.6,559.7L820.0,558.6L822.3,556.4L824.4,553.8L825.9,551.6M830.6,543.1L832.2,540.5L833.8,538.0L835.3,535.4L836.3,533.7M840.3,525.3L841.2,522.4L842.0,519.5L842.7,516.6L842.9,515.6M844.6,507.2L845.1,504.2L845.6,501.3L845.9,498.4L846.0,497.9M846.1,489.1L845.9,486.1L846.1,483.3L846.8,480.4L847.1,479.5M850.1,471.0L850.7,468.1L851.3,465.1L851.7,462.2L851.7,461.7M852.5,453.2L852.8,450.2L853.2,447.2L853.6,444.2L853.6,443.7M855.0,435.3L855.6,432.4L856.1,429.4L856.7,426.5L856.9,425.5M858.6,417.2L859.1,414.2L859.7,411.3L860.2,408.3L860.3,407.8M861.8,399.0L862.3,396.0L862.7,393.0L863.2,390.1L863.3,389.6M864.6,381.2L865.0,378.2L865.5,375.2L865.9,372.3L866.0,371.8M867.3,363.4L867.7,360.4L868.2,357.4L868.6,354.5L868.8,353.5M870.2,345.1L870.7,342.1L871.2,339.2L871.8,336.2L871.9,335.7M873.4,327.4L874.0,324.4L874.6,321.5L875.2,318.6L875.4,317.6M877.1,309.3L877.7,306.3L878.3,303.4L878.9,300.4L879.1,299.5M880.9,291.1L881.5,288.2L882.1,285.3L882.7,282.3L882.8,281.8M884.6,273.0L885.1,270.1L885.7,267.1L886.2,264.2L886.3,263.7M887.8,255.3L888.4,252.3L888.9,249.4L889.4,246.4L889.5,245.9M891.0,237.0L891.4,234.1L891.9,231.1L892.4,228.1L892.5,227.6M893.9,219.2L894.4,216.3L894.9,213.3L895.4,210.4L895.5,209.9M897.0,201.0L897.6,198.1L898.1,195.1L898.6,192.2L898.7,191.7M900.4,183.4L900.9,180.5L901.5,177.5L902.1,174.6L902.3,173.6M904.1,165.3L904.7,162.4L905.3,159.4L906.0,156.5L906.2,155.5M908.0,147.1L908.7,144.2L909.4,141.2L910.2,138.3L910.4,137.8M913.3,129.4L914.5,126.7L915.9,124.1L917.4,121.6L918.7,119.5M926.1,111.3L928.3,109.2L930.5,107.0L932.6,104.8L934.6,102.7L935.6,101.6M944.0,94.7L946.7,93.2L949.4,91.8L952.1,90.6L953.6,90.1M961.7,87.9L964.7,87.4L967.6,87.0L970.6,86.8L971.6,86.7M980.1,86.4L983.1,86.4L986.1,86.5L989.1,86.6L989.6,86.6M998.1,87.3L1001.1,87.7L1004.1,88.0L1007.0,88.4L1007.5,88.5M1016.0,89.8L1018.9,90.3L1021.8,90.9L1024.8,91.4L1025.3,91.5M1034.0,93.5L1036.9,94.2L1039.8,95.0L1042.6,95.8L1043.6,96.1M1052.1,98.9L1054.9,100.0L1057.7,101.2L1060.5,102.4L1061.4,102.8M1069.9,107.2L1072.5,108.7L1075.1,110.3L1077.5,112.0L1079.6,113.5M1088.0,121.1L1090.0,123.3L1091.9,125.6L1093.6,128.0L1095.3,130.4M1100.5,139.0L1102.0,141.6L1103.4,144.3L1104.9,146.9L1105.9,148.7M1110.7,157.0L1112.3,159.5L1114.0,162.0L1115.7,164.4L1117.2,166.4M1123.2,175.0L1124.7,177.5L1126.2,180.1L1127.5,182.8L1128.3,184.6M1131.9,192.9L1133.1,195.7L1134.2,198.5L1135.4,201.2L1136.0,202.6M1139.4,211.0L1140.5,213.8L1141.6,216.5L1142.7,219.3L1143.3,220.7M1146.5,229.1L1147.6,231.9L1148.6,234.7L1149.6,237.5L1149.9,238.5M1152.9,246.9L1153.8,249.8L1154.7,252.6L1155.6,255.5L1155.9,256.5M1158.6,265.1L1159.4,268.0L1160.3,271.0L1161.1,273.9L1161.2,274.3M1163.9,283.0L1164.8,285.8L1165.8,288.6L1166.8,291.4L1167.1,292.4M1170.7,300.9L1172.0,303.5L1173.4,306.1L1175.0,308.7L1176.2,310.4M1184.1,318.5L1186.5,319.6L1188.8,319.4L1190.9,317.8L1192.7,315.4M1196.1,307.0L1196.8,304.1L1197.6,301.2L1198.3,298.3L1198.6,297.3M1201.0,288.7L1201.7,285.8L1202.5,282.9L1203.3,280.0L1203.4,279.5M1205.5,270.7L1206.1,267.8L1206.8,264.9L1207.4,261.9L1207.5,261.5M1209.2,252.6L1209.8,249.7L1210.3,246.7L1210.8,243.8L1210.9,243.3M1212.4,234.9L1212.9,231.9L1213.4,229.0L1213.9,226.0L1213.9,225.5M1215.4,216.6L1215.9,213.7L1216.4,210.7L1216.9,207.8L1217.0,207.3M1218.4,198.9L1218.9,196.0L1219.4,193.1L1219.9,190.1L1220.0,189.1M1221.4,180.7L1221.8,177.7L1222.3,174.8L1222.7,171.8L1222.8,171.3M1223.9,162.8L1224.3,159.8L1224.8,156.8L1225.3,153.8L1225.4,153.3M1227.5,144.6L1228.3,141.8L1229.3,139.0L1230.4,136.3L1230.8,135.4M1235.6,126.6L1237.1,124.1L1238.7,121.5L1240.2,119.0L1241.2,117.3M1246.3,108.7L1248.0,106.2L1249.7,103.8L1251.5,101.4L1253.4,99.1M1261.5,91.6L1264.0,89.9L1266.6,88.3L1269.2,87.0L1271.1,86.3M1279.6,83.6L1282.5,82.9L1285.4,82.2L1288.3,81.5L1288.8,81.4M1297.7,79.6L1300.6,79.1L1303.6,78.6L1306.6,78.2L1307.1,78.1M1315.5,77.0L1318.5,76.6L1321.5,76.3L1324.5,76.1L1325.0,76.0M1333.4,75.4L1336.4,75.3L1339.4,75.1L1342.4,75.0L1342.9,75.0M1351.4,74.7L1354.4,74.7L1357.4,74.6L1360.4,74.5L1360.9,74.5M1369.4,74.3L1372.4,74.3L1375.4,74.2L1378.4,74.2L1378.9,74.2M1387.4,74.0L1390.4,74.0L1393.4,73.9L1396.4,73.9L1396.9,73.9M1405.4,73.7L1408.4,73.7L1411.4,73.7L1414.4,73.6L1414.9,73.6M1423.4,73.5L1426.4,73.5L1429.4,73.5L1432.4,73.4L1432.9,73.4M1441.4,73.4L1444.4,73.3L1447.4,73.3L1450.4,73.3L1450.9,73.3M1459.4,73.2L1462.4,73.2L1465.4,73.2L1468.4,73.2L1468.9,73.2M1477.4,73.1L1480.4,73.1L1483.4,73.1L1486.4,73.1L1486.9,73.1M1495.4,73.1L1498.4,73.0L1501.4,73.0L1504.4,73.0L1504.9,73.0M1513.4,73.0L1516.4,73.0L1519.4,73.0L1522.4,73.0L1522.9,73.0M1531.4,73.0L1534.4,73.0L1537.4,73.0L1540.4,73.0L1540.9,73.0M1549.4,73.0L1552.4,73.0L1555.5,73.0L1558.5,73.0L1559.0,73.0M1567.5,73.0L1570.5,73.0L1573.5,73.0L1576.5,73.0L1577.0,73.0M1585.5,73.0L1588.5,72.9L1591.5,72.9L1594.5,72.9L1595.0,72.9M1603.5,72.9L1606.5,72.9L1609.5,72.9L1612.5,72.9L1613.0,72.9M1621.5,72.9L1624.5,72.9L1627.5,72.9L1630.5,72.9L1631.0,72.9M1639.5,72.9L1642.5,72.9L1645.5,72.9L1648.5,72.8L1649.0,72.8M1657.5,72.8L1660.5,72.8L1663.5,72.8L1666.5,72.8L1667.0,72.8M1675.5,72.7L1678.5,72.7L1681.5,72.7L1684.5,72.7L1685.0,72.7M1693.5,72.6L1696.5,72.6L1699.5,72.6L1702.5,72.5L1703.0,72.5M1711.5,72.4L1714.5,72.4L1717.5,72.4L1720.5,72.4L1721.0,72.3"/>
<path d="M253.4,64.5h3.2v3.2h-3.2zM264.9,64.0h3.2v3.2h-3.2zM275.9,63.7h3.2v3.2h-3.2zM287.4,63.5h3.2v3.2h-3.2zM298.4,63.4h3.2v3.2h-3.2zM309.9,63.4h3.2v3.2h-3.2zM320.9,63.5h3.2v3.2h-3.2zM331.9,63.7h3.2v3.2h-3.2zM343.4,63.9h3.2v3.2h-3.2zM354.4,64.2h3.2v3.2h-3.2zM365.4,64.4h3.2v3.2h-3.2zM377.0,64.7h3.2v3.2h-3.2zM388.0,65.0h3.2v3.2h-3.2zM399.5,65.2h3.2v3.2h-3.2zM410.5,65.4h3.2v3.2h-3.2zM421.5,65.5h3.2v3.2h-3.2zM433.0,65.5h3.2v3.2h-3.2zM444.0,65.5h3.2v3.2h-3.2zM455.5,65.6h3.2v3.2h-3.2zM466.5,65.6h3.2v3.2h-3.2zM477.5,65.8h3.2v3.2h-3.2zM488.9,66.1h3.2v3.2h-3.2zM499.9,66.6h3.2v3.2h-3.2zM511.3,67.3h3.2v3.2h-3.2zM522.3,68.2h3.2v3.2h-3.2zM533.7,69.5h3.2v3.2h-3.2zM545.1,71.0h3.2v3.2h-3.2zM556.0,72.9h3.2v3.2h-3.2zM567.3,75.2h3.2v3.2h-3.2zM578.6,77.9h3.2v3.2h-3.2zM589.8,81.1h3.2v3.2h-3.2zM600.8,84.7h3.2v3.2h-3.2zM612.1,88.9h3.2v3.2h-3.2zM623.1,93.7h3.2v3.2h-3.2zM634.3,99.2h3.2v3.2h-3.2zM645.5,105.6h3.2v3.2h-3.2zM656.7,112.9h3.2v3.2h-3.2zM668.1,121.6h3.2v3.2h-3.2zM679.1,131.4h3.2v3.2h-3.2zM690.1,142.8h3.2v3.2h-3.2zM699.5,153.7h3.2v3.2h-3.2zM708.3,165.2h3.2v3.2h-3.2zM716.1,176.3h3.2v3.2h-3.2zM723.2,187.4h3.2v3.2h-3.2zM730.0,198.6h3.2v3.2h-3.2zM736.5,210.0h3.2v3.2h-3.2zM742.6,221.1h3.2v3.2h-3.2zM748.4,232.3h3.2v3.2h-3.2zM754.0,243.5h3.2v3.2h-3.2zM759.4,254.8h3.2v3.2h-3.2zM764.7,266.1h3.2v3.2h-3.2zM769.5,277.1h3.2v3.2h-3.2zM774.3,288.1h3.2v3.2h-3.2zM779.1,299.6h3.2v3.2h-3.2zM783.5,310.7h3.2v3.2h-3.2zM787.9,321.9h3.2v3.2h-3.2zM792.1,333.0h3.2v3.2h-3.2zM796.3,344.3h3.2v3.2h-3.2zM800.3,355.5h3.2v3.2h-3.2zM804.3,366.8h3.2v3.2h-3.2zM808.2,378.1h3.2v3.2h-3.2zM812.0,389.0h3.2v3.2h-3.2zM815.8,400.3h3.2v3.2h-3.2zM819.6,411.7h3.2v3.2h-3.2zM823.2,422.6h3.2v3.2h-3.2zM826.9,434.0h3.2v3.2h-3.2zM830.5,444.9h3.2v3.2h-3.2zM834.2,456.3h3.2v3.2h-3.2zM837.9,467.7h3.2v3.2h-3.2zM841.5,478.7h3.2v3.2h-3.2zM845.2,490.1h3.2v3.2h-3.2zM848.8,501.0h3.2v3.2h-3.2zM852.6,512.4h3.2v3.2h-3.2zM856.3,523.3h3.2v3.2h-3.2zM860.1,534.7h3.2v3.2h-3.2zM864.0,546.1h3.2v3.2h-3.2zM867.8,557.0h3.2v3.2h-3.2zM871.8,568.3h3.2v3.2h-3.2zM875.8,579.6h3.2v3.2h-3.2zM880.0,590.9h3.2v3.2h-3.2zM884.1,602.1h3.2v3.2h-3.2zM888.4,613.3h3.2v3.2h-3.2zM892.8,624.5h3.2v3.2h-3.2zM897.2,635.7h3.2v3.2h-3.2zM901.7,646.8h3.2v3.2h-3.2zM906.4,657.8h3.2v3.2h-3.2zM911.3,669.3h3.2v3.2h-3.2zM916.2,680.3h3.2v3.2h-3.2zM921.3,691.7h3.2v3.2h-3.2zM926.3,702.6h3.2v3.2h-3.2zM931.3,714.0h3.2v3.2h-3.2zM936.0,725.0h3.2v3.2h-3.2zM940.4,736.2h3.2v3.2h-3.2zM944.5,747.4h3.2v3.2h-3.2zM948.1,758.8h3.2v3.2h-3.2zM951.3,769.9h3.2v3.2h-3.2zM954.3,781.0h3.2v3.2h-3.2zM957.0,792.2h3.2v3.2h-3.2zM959.6,803.5h3.2v3.2h-3.2zM962.2,814.7h3.2v3.2h-3.2zM964.6,826.0h3.2v3.2h-3.2zM967.1,837.3h3.2v3.2h-3.2zM969.5,848.5h3.2v3.2h-3.2zM972.0,859.7h3.2v3.2h-3.2zM974.3,870.5h3.2v3.2h-3.2zM976.8,881.7h3.2v3.2h-3.2zM979.3,892.9h3.2v3.2h-3.2zM981.9,904.1h3.2v3.2h-3.2zM984.5,915.3h3.2v3.2h-3.2zM987.3,927.0h3.2v3.2h-3.2zM990.1,938.1h3.2v3.2h-3.2zM993.0,949.2h3.2v3.2h-3.2zM996.0,960.3h3.2v3.2h-3.2zM999.2,971.4h3.2v3.2h-3.2zM1002.8,982.8h3.2v3.2h-3.2zM1006.9,994.1h3.2v3.2h-3.2zM1011.4,1005.2h3.2v3.2h-3.2zM1016.8,1016.5h3.2v3.2h-3.2zM1023.1,1027.5h3.2v3.2h-3.2zM1030.9,1038.6h3.2v3.2h-3.2zM1041.3,1049.8h3.2v3.2h-3.2zM1052.3,1058.2h3.2v3.2h-3.2zM1063.8,1064.2h3.2v3.2h-3.2zM1075.0,1068.5h3.2v3.2h-3.2zM1086.1,1071.7h3.2v3.2h-3.2zM1097.3,1074.2h3.2v3.2h-3.2zM1108.7,1076.3h3.2v3.2h-3.2zM1119.6,1078.1h3.2v3.2h-3.2zM1131.0,1079.7h3.2v3.2h-3.2zM1141.9,1081.1h3.2v3.2h-3.2zM1153.3,1082.5h3.2v3.2h-3.2zM1164.7,1083.8h3.2v3.2h-3.2zM1175.6,1085.0h3.2v3.2h-3.2zM1187.1,1086.2h3.2v3.2h-3.2zM1198.0,1087.5h3.2v3.2h-3.2zM1209.4,1088.7h3.2v3.2h-3.2zM1220.4,1090.0h3.2v3.2h-3.2zM1231.8,1091.2h3.2v3.2h-3.2zM1242.7,1092.5h3.2v3.2h-3.2zM1254.2,1093.8h3.2v3.2h-3.2zM1265.1,1095.0h3.2v3.2h-3.2zM1276.5,1096.3h3.2v3.2h-3.2zM1287.5,1097.5h3.2v3.2h-3.2zM1298.9,1098.8h3.2v3.2h-3.2zM1310.3,1100.0h3.2v3.2h-3.2zM1321.3,1101.2h3.2v3.2h-3.2zM1332.7,1102.5h3.2v3.2h-3.2zM1343.6,1103.6h3.2v3.2h-3.2zM1355.1,1104.8h3.2v3.2h-3.2zM1366.0,1106.0h3.2v3.2h-3.2zM1377.5,1107.1h3.2v3.2h-3.2zM1388.4,1108.2h3.2v3.2h-3.2zM1399.9,1109.4h3.2v3.2h-3.2zM1410.8,1110.4h3.2v3.2h-3.2zM1422.3,1111.5h3.2v3.2h-3.2zM1433.3,1112.5h3.2v3.2h-3.2zM1444.7,1113.5h3.2v3.2h-3.2zM1455.7,1114.4h3.2v3.2h-3.2zM1467.1,1115.4h3.2v3.2h-3.2zM1478.1,1116.2h3.2v3.2h-3.2zM1489.1,1117.1h3.2v3.2h-3.2zM1500.5,1117.9h3.2v3.2h-3.2zM1511.5,1118.7h3.2v3.2h-3.2zM1523.0,1119.4h3.2v3.2h-3.2zM1534.0,1120.1h3.2v3.2h-3.2zM1545.5,1120.8h3.2v3.2h-3.2zM1556.4,1121.5h3.2v3.2h-3.2zM1567.9,1122.1h3.2v3.2h-3.2zM1578.9,1122.6h3.2v3.2h-3.2zM1589.9,1123.1h3.2v3.2h-3.2zM1601.4,1123.6h3.2v3.2h-3.2zM1612.4,1124.0h3.2v3.2h-3.2zM1623.9,1124.4h3.2v3.2h-3.2zM1634.9,1124.8h3.2v3.2h-3.2zM1645.9,1125.1h3.2v3.2h-3.2zM1657.4,1125.3h3.2v3.2h-3.2zM1668.4,1125.6h3.2v3.2h-3.2zM1679.9,1125.7h3.2v3.2h-3.2zM1690.9,1125.9h3.2v3.2h-3.2zM1701.9,1125.9h3.2v3.2h-3.2zM1713.4,1126.0h3.2v3.2h-3.2z" fill="#000" stroke="none"/>
<path d="M253.4,69.2h3.2v3.2h-3.2zM260.9,69.4h3.2v3.2h-3.2zM271.9,69.6h3.2v3.2h-3.2zM283.4,69.7h3.2v3.2h-3.2zM294.4,69.7h3.2v3.2h-3.2zM305.9,69.6h3.2v3.2h-3.2zM316.9,69.6h3.2v3.2h-3.2zM327.9,69.5h3.2v3.2h-3.2zM339.4,69.5h3.2v3.2h-3.2zM350.4,69.6h3.2v3.2h-3.2zM361.4,69.8h3.2v3.2h-3.2zM372.9,70.0h3.2v3.2h-3.2zM383.9,70.4h3.2v3.2h-3.2zM395.4,70.8h3.2v3.2h-3.2zM406.4,71.2h3.2v3.2h-3.2zM417.9,71.6h3.2v3.2h-3.2zM428.9,71.9h3.2v3.2h-3.2zM439.9,72.2h3.2v3.2h-3.2zM451.4,72.5h3.2v3.2h-3.2zM462.4,72.9h3.2v3.2h-3.2zM473.9,73.8h3.2v3.2h-3.2zM484.7,75.3h3.2v3.2h-3.2zM495.9,77.5h3.2v3.2h-3.2zM507.1,80.1h3.2v3.2h-3.2zM518.3,83.0h3.2v3.2h-3.2zM529.4,86.1h3.2v3.2h-3.2zM540.9,89.5h3.2v3.2h-3.2zM552.3,93.4h3.2v3.2h-3.2zM563.3,98.0h3.2v3.2h-3.2zM574.5,103.6h3.2v3.2h-3.2zM585.8,110.0h3.2v3.2h-3.2zM596.8,116.9h3.2v3.2h-3.2zM607.9,124.5h3.2v3.2h-3.2zM619.2,132.9h3.2v3.2h-3.2zM630.4,142.7h3.2v3.2h-3.2zM640.5,153.7h3.2v3.2h-3.2zM649.5,165.1h3.2v3.2h-3.2zM657.8,176.4h3.2v3.2h-3.2zM665.6,187.4h3.2v3.2h-3.2zM673.2,198.6h3.2v3.2h-3.2zM680.6,209.9h3.2v3.2h-3.2zM687.3,221.0h3.2v3.2h-3.2zM693.8,232.3h3.2v3.2h-3.2zM699.9,243.7h3.2v3.2h-3.2zM705.5,254.8h3.2v3.2h-3.2zM710.9,266.1h3.2v3.2h-3.2zM715.9,277.0h3.2v3.2h-3.2zM720.9,288.5h3.2v3.2h-3.2zM725.6,299.5h3.2v3.2h-3.2zM730.2,310.6h3.2v3.2h-3.2zM734.8,321.8h3.2v3.2h-3.2zM739.3,332.9h3.2v3.2h-3.2zM743.9,344.5h3.2v3.2h-3.2zM748.5,355.6h3.2v3.2h-3.2zM753.1,366.7h3.2v3.2h-3.2zM757.7,377.8h3.2v3.2h-3.2zM762.6,389.3h3.2v3.2h-3.2zM767.3,400.3h3.2v3.2h-3.2zM772.0,411.3h3.2v3.2h-3.2zM776.9,422.8h3.2v3.2h-3.2zM781.6,433.9h3.2v3.2h-3.2zM786.7,445.3h3.2v3.2h-3.2zM792.2,456.5h3.2v3.2h-3.2zM798.1,467.4h3.2v3.2h-3.2zM803.6,478.8h3.2v3.2h-3.2zM813.8,486.8h3.2v3.2h-3.2zM823.6,496.8h3.2v3.2h-3.2zM830.4,507.7h3.2v3.2h-3.2zM841.8,511.1h3.2v3.2h-3.2zM853.1,502.3h3.2v3.2h-3.2zM864.0,495.6h3.2v3.2h-3.2zM874.9,488.5h3.2v3.2h-3.2zM879.4,477.0h3.2v3.2h-3.2zM881.7,466.1h3.2v3.2h-3.2zM884.3,454.9h3.2v3.2h-3.2zM887.0,443.8h3.2v3.2h-3.2zM889.8,432.6h3.2v3.2h-3.2zM893.2,421.0h3.2v3.2h-3.2zM897.7,410.0h3.2v3.2h-3.2zM902.0,398.9h3.2v3.2h-3.2zM905.3,387.6h3.2v3.2h-3.2zM911.4,376.5h3.2v3.2h-3.2zM919.4,381.6h3.2v3.2h-3.2zM923.0,392.9h3.2v3.2h-3.2zM926.1,404.0h3.2v3.2h-3.2zM929.0,415.2h3.2v3.2h-3.2zM931.5,426.4h3.2v3.2h-3.2zM933.8,437.6h3.2v3.2h-3.2zM935.8,448.8h3.2v3.2h-3.2zM937.5,459.7h3.2v3.2h-3.2zM939.2,471.0h3.2v3.2h-3.2zM940.6,482.4h3.2v3.2h-3.2zM941.9,493.4h3.2v3.2h-3.2zM943.2,504.8h3.2v3.2h-3.2zM944.3,515.8h3.2v3.2h-3.2zM945.4,527.2h3.2v3.2h-3.2zM946.5,538.2h3.2v3.2h-3.2zM947.6,549.6h3.2v3.2h-3.2zM948.7,560.5h3.2v3.2h-3.2zM949.9,572.0h3.2v3.2h-3.2zM951.0,582.9h3.2v3.2h-3.2zM952.1,594.3h3.2v3.2h-3.2zM953.2,605.3h3.2v3.2h-3.2zM954.3,616.7h3.2v3.2h-3.2zM955.4,627.7h3.2v3.2h-3.2zM956.6,639.1h3.2v3.2h-3.2zM957.7,650.1h3.2v3.2h-3.2zM959.0,661.5h3.2v3.2h-3.2zM960.2,672.4h3.2v3.2h-3.2zM961.7,683.8h3.2v3.2h-3.2zM963.0,695.2h3.2v3.2h-3.2zM964.3,706.1h3.2v3.2h-3.2zM967.4,717.2h3.2v3.2h-3.2zM976.2,719.0h3.2v3.2h-3.2zM979.8,707.7h3.2v3.2h-3.2zM981.3,696.2h3.2v3.2h-3.2zM982.5,685.3h3.2v3.2h-3.2zM983.9,673.9h3.2v3.2h-3.2zM985.3,663.0h3.2v3.2h-3.2zM986.7,651.6h3.2v3.2h-3.2zM988.1,640.2h3.2v3.2h-3.2zM989.3,629.2h3.2v3.2h-3.2zM990.6,617.8h3.2v3.2h-3.2zM991.7,606.8h3.2v3.2h-3.2zM992.9,595.4h3.2v3.2h-3.2zM994.0,584.5h3.2v3.2h-3.2zM995.2,573.0h3.2v3.2h-3.2zM996.3,562.1h3.2v3.2h-3.2zM997.4,550.6h3.2v3.2h-3.2zM998.4,539.6h3.2v3.2h-3.2zM999.5,528.2h3.2v3.2h-3.2zM1000.6,517.2h3.2v3.2h-3.2zM1001.7,505.8h3.2v3.2h-3.2zM1002.7,494.8h3.2v3.2h-3.2zM1003.9,483.4h3.2v3.2h-3.2zM1005.0,472.5h3.2v3.2h-3.2zM1006.2,461.0h3.2v3.2h-3.2zM1007.3,450.1h3.2v3.2h-3.2zM1008.5,438.7h3.2v3.2h-3.2zM1009.7,427.7h3.2v3.2h-3.2zM1011.0,416.3h3.2v3.2h-3.2zM1012.2,405.4h3.2v3.2h-3.2zM1013.4,393.9h3.2v3.2h-3.2zM1014.6,383.0h3.2v3.2h-3.2zM1015.9,371.5h3.2v3.2h-3.2zM1017.0,360.6h3.2v3.2h-3.2zM1018.3,349.1h3.2v3.2h-3.2zM1019.5,338.2h3.2v3.2h-3.2zM1020.9,326.8h3.2v3.2h-3.2zM1022.3,315.4h3.2v3.2h-3.2zM1023.7,304.5h3.2v3.2h-3.2zM1025.2,293.1h3.2v3.2h-3.2zM1026.8,282.2h3.2v3.2h-3.2zM1028.6,270.9h3.2v3.2h-3.2zM1030.4,259.6h3.2v3.2h-3.2zM1032.3,248.3h3.2v3.2h-3.2zM1034.0,237.4h3.2v3.2h-3.2zM1035.8,226.0h3.2v3.2h-3.2zM1037.6,215.0h3.2v3.2h-3.2zM1039.6,203.7h3.2v3.2h-3.2zM1041.9,192.4h3.2v3.2h-3.2zM1044.6,181.3h3.2v3.2h-3.2zM1047.8,169.8h3.2v3.2h-3.2zM1051.3,159.0h3.2v3.2h-3.2zM1055.6,147.8h3.2v3.2h-3.2zM1060.8,136.4h3.2v3.2h-3.2zM1066.8,125.1h3.2v3.2h-3.2zM1074.5,113.9h3.2v3.2h-3.2zM1085.3,104.2h3.2v3.2h-3.2zM1096.7,98.6h3.2v3.2h-3.2zM1107.7,95.0h3.2v3.2h-3.2zM1118.9,91.9h3.2v3.2h-3.2zM1130.1,89.4h3.2v3.2h-3.2zM1141.4,87.5h3.2v3.2h-3.2zM1152.3,86.1h3.2v3.2h-3.2zM1163.7,85.1h3.2v3.2h-3.2zM1174.7,84.5h3.2v3.2h-3.2zM1186.2,84.1h3.2v3.2h-3.2zM1197.2,83.8h3.2v3.2h-3.2zM1208.7,83.7h3.2v3.2h-3.2zM1219.7,83.5h3.2v3.2h-3.2zM1230.7,83.4h3.2v3.2h-3.2zM1242.2,83.3h3.2v3.2h-3.2zM1253.2,83.2h3.2v3.2h-3.2zM1264.7,83.1h3.2v3.2h-3.2zM1275.7,83.0h3.2v3.2h-3.2zM1286.7,83.0h3.2v3.2h-3.2zM1298.2,82.9h3.2v3.2h-3.2zM1309.2,82.9h3.2v3.2h-3.2zM1320.7,82.8h3.2v3.2h-3.2zM1331.7,82.8h3.2v3.2h-3.2zM1342.7,82.7h3.2v3.2h-3.2zM1354.2,82.7h3.2v3.2h-3.2zM1365.2,82.7h3.2v3.2h-3.2zM1376.7,82.7h3.2v3.2h-3.2zM1387.7,82.7h3.2v3.2h-3.2zM1398.8,82.7h3.2v3.2h-3.2zM1410.3,82.7h3.2v3.2h-3.2zM1421.3,82.6h3.2v3.2h-3.2zM1432.8,82.5h3.2v3.2h-3.2zM1443.8,82.4h3.2v3.2h-3.2zM1454.8,82.1h3.2v3.2h-3.2zM1466.3,81.7h3.2v3.2h-3.2zM1477.2,81.2h3.2v3.2h-3.2zM1488.7,80.5h3.2v3.2h-3.2zM1499.7,79.7h3.2v3.2h-3.2zM1511.1,78.8h3.2v3.2h-3.2zM1522.1,77.8h3.2v3.2h-3.2zM1533.5,76.8h3.2v3.2h-3.2zM1544.5,75.9h3.2v3.2h-3.2zM1555.9,75.1h3.2v3.2h-3.2zM1566.9,74.3h3.2v3.2h-3.2zM1577.9,73.7h3.2v3.2h-3.2zM1589.4,73.2h3.2v3.2h-3.2zM1600.4,72.9h3.2v3.2h-3.2zM1611.9,72.5h3.2v3.2h-3.2zM1622.9,72.3h3.2v3.2h-3.2zM1634.4,72.1h3.2v3.2h-3.2zM1645.4,72.0h3.2v3.2h-3.2zM1656.4,71.9h3.2v3.2h-3.2zM1667.9,71.8h3.2v3.2h-3.2zM1678.9,71.7h3.2v3.2h-3.2zM1689.9,71.6h3.2v3.2h-3.2zM1701.4,71.4h3.2v3.2h-3.2zM1712.4,71.3h3.2v3.2h-3.2z" fill="#000" stroke="none"/>
<path d="M1726.5,74V81.7M1726.5,85V88.7" stroke-width="3.6"/>
</g>
<g fill="none" stroke="#000" stroke-width="10.0" stroke-linecap="butt">
<path d="M219.75,31.3V1217.9"/>
<path d="M1849.0,31.3V1217.9"/>
<path d="M219.05,31.45H1850.0" stroke-width="10.9"/>
<path d="M219.05,1217.9H1849.8" stroke-width="9.8"/>
<path d="M219.75,1102.6h12.5M219.75,987.4h26M219.75,872.2h12.5M219.75,757.1h26M219.75,641.9h12.5M219.75,526.7h26M219.75,411.5h12.5M219.75,296.3h26M219.75,181.1h12.5M219.75,66.0h26M1849.0,69.9h-24.5M1849.0,165.6h-12M1849.0,261.2h-24.5M1849.0,356.9h-12M1849.0,452.5h-24.5M1849.0,548.2h-12M1849.0,643.8h-24.5M1849.0,739.5h-12M1849.0,835.2h-24.5M1849.0,930.8h-12M1849.0,1026.5h-24.5M1849.0,1122.1h-12M292.1,1217.9v-13M436.3,1217.9v-25M580.5,1217.9v-13M724.7,1217.9v-25M868.8,1217.9v-13M1013.0,1217.9v-25M1157.2,1217.9v-13M1301.4,1217.9v-25M1445.5,1217.9v-13M1589.7,1217.9v-25M1733.9,1217.9v-13" stroke-width="9.6"/>
</g>
<g font-family="'Liberation Serif','Times New Roman',serif" fill="#000">
<text transform="translate(194.30,1232.80) scale(0.9615,1)" font-size="54.6px" text-anchor="end">0</text>
<text transform="translate(194.30,1002.43) scale(0.9615,1)" font-size="54.6px" text-anchor="end">20</text>
<text transform="translate(194.30,772.06) scale(0.9615,1)" font-size="54.6px" text-anchor="end">40</text>
<text transform="translate(194.30,541.69) scale(0.9615,1)" font-size="54.6px" text-anchor="end">60</text>
<text transform="translate(194.30,311.32) scale(0.9615,1)" font-size="54.6px" text-anchor="end">80</text>
<text transform="translate(194.30,80.95) scale(0.9615,1)" font-size="54.6px" text-anchor="end">100</text>
<text transform="translate(1876.40,85.10) scale(0.9615,1)" font-size="54.6px" text-anchor="start">0</text>
<text transform="translate(1876.40,276.42) scale(0.9615,1)" font-size="54.6px" text-anchor="start">-5</text>
<text transform="translate(1876.40,467.73) scale(0.9615,1)" font-size="54.6px" text-anchor="start">-10</text>
<text transform="translate(1876.40,659.04) scale(0.9615,1)" font-size="54.6px" text-anchor="start">-15</text>
<text transform="translate(1876.40,850.36) scale(0.9615,1)" font-size="54.6px" text-anchor="start">-20</text>
<text transform="translate(1876.40,1041.67) scale(0.9615,1)" font-size="54.6px" text-anchor="start">-25</text>
<text transform="translate(1876.40,1232.99) scale(0.9615,1)" font-size="54.6px" text-anchor="start">-30</text>
<text transform="translate(437.30,1284.50) scale(0.9615,1)" font-size="54.6px" text-anchor="middle">100</text>
<text transform="translate(724.95,1284.50) scale(0.983,1)" font-size="54.6px" text-anchor="middle">200</text>
<text transform="translate(1013.30,1284.50) scale(0.983,1)" font-size="54.6px" text-anchor="middle">300</text>
<text transform="translate(1301.65,1284.50) scale(0.983,1)" font-size="54.6px" text-anchor="middle">400</text>
<text transform="translate(1590.00,1284.50) scale(0.983,1)" font-size="54.6px" text-anchor="middle">500</text>
<text transform="translate(61.00,623.30) rotate(-90)" font-size="55px" text-anchor="middle">TG, %</text>
<text transform="translate(2012.30,646.20) rotate(-90)" font-size="54px" text-anchor="middle">DTG, %/min.</text>
</g>
<g font-family="'Liberation Sans',Arial,sans-serif" fill="#000">
<text transform="translate(801.60,1378.90) scale(0.9426,1)" font-size="56.4px" text-anchor="start">temperature, <tspan dy="-6">°</tspan><tspan dy="6">C</tspan></text>
<text transform="translate(1345.00,538.00) scale(0.949,1)" font-size="56.6px" text-anchor="start">CTA-o-ONPPE</text>
<text transform="translate(1345.00,603.10) scale(0.949,1)" font-size="56.6px" text-anchor="start">CTA-o-ONPPE-<tspan font-weight="bold">1</tspan></text>
<text transform="translate(1345.00,669.00) scale(0.949,1)" font-size="56.6px" text-anchor="start">CTA-o-ONPPE-<tspan font-weight="bold">5</tspan></text>
<rect x="1725.3" y="605" width="29.6" height="7"/>
<rect x="1725.3" y="670.9" width="29.6" height="7"/>
<text transform="translate(1282.60,875.00)" font-size="48px" text-anchor="start">(a)</text>
<text transform="translate(764.90,1085.00)" font-size="48px" text-anchor="start">(b)</text>
<text transform="translate(869.80,1158.00)" font-size="48px" text-anchor="start">(c)</text>
</g>
<g fill="none" stroke="#000" stroke-width="3.1">
<path d="M1207,520.5H1330.2"/>
<path d="M1207,585.5H1328" stroke-dasharray="10 8.5"/>
<path d="M1207,651.5H1325" stroke-dasharray="3.1 8.3"/>
</g>
<path d="M1265.0,889.0L1173.0,933.0" stroke="#000" stroke-width="4.2" fill="none"/><path d="M1154.0,942.0L1172.3,926.9L1177.2,937.3Z" fill="#000"/>
<path d="M840.0,1023.0L871.0,983.5" stroke="#000" stroke-width="4.2" fill="none"/><path d="M884.0,967.0L874.3,988.6L865.3,981.5Z" fill="#000"/>
<path d="M946.0,1135.0L991.1,1080.7" stroke="#000" stroke-width="4.2" fill="none"/><path d="M1004.5,1064.5L994.2,1085.9L985.4,1078.5Z" fill="#000"/>
</svg>
</body></html>
